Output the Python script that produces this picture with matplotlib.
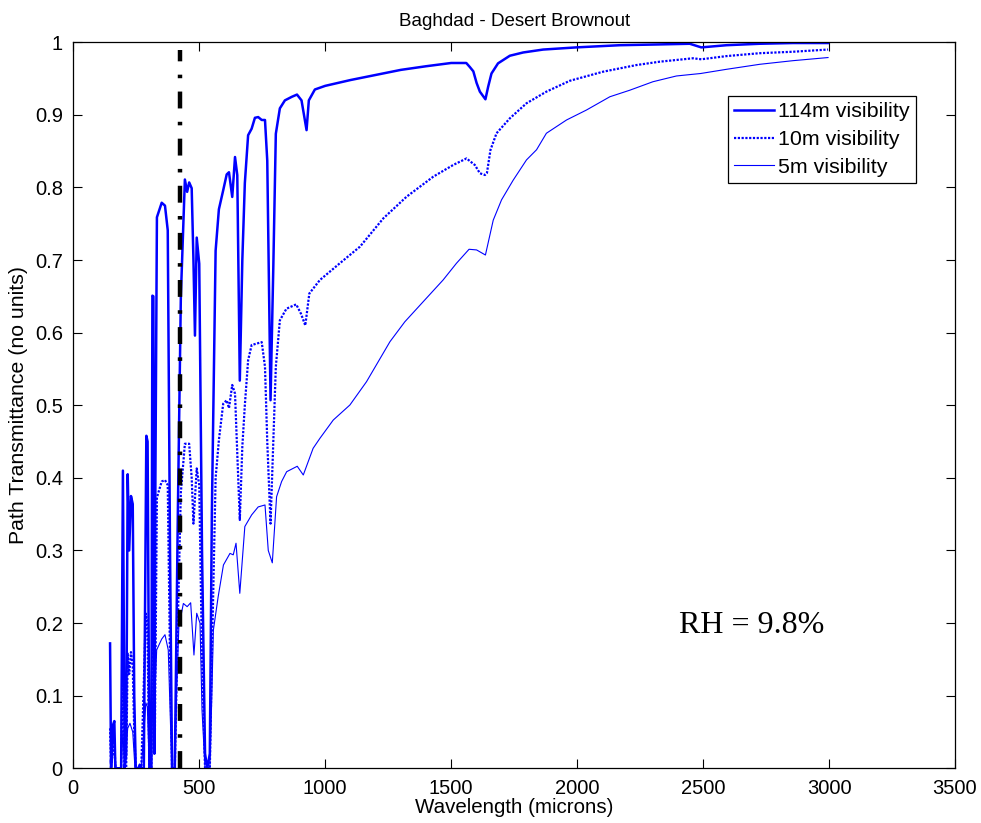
"""Baghdad desert brownout path transmittance, redrawn from the figure."""

import matplotlib
matplotlib.use("Agg")
import matplotlib.pyplot as plt
import numpy as np

plt.rcParams["font.family"] = ["Liberation Sans", "DejaVu Sans"]
plt.rcParams["font.size"] = 14.5

# 114m visibility
wl_114 = [146, 150, 158, 163, 167, 190, 197, 204, 210, 216, 222, 229, 236, 242,
          248, 258, 264, 270, 280, 290, 295, 302, 310, 314, 318, 322, 326, 332,
          351, 364, 375, 384, 392, 403, 415, 427, 443, 452, 460, 470, 477, 483,
          490, 500, 511, 523, 532, 542, 550, 565, 578, 595, 609, 618, 631, 642,
          651, 661, 671, 681, 694, 708, 721, 734, 748, 761, 770, 783, 794, 804,
          820, 840, 868, 888, 906, 926, 935, 959, 1000, 1100, 1200, 1300, 1400,
          1500, 1560, 1574, 1588, 1601, 1614, 1636, 1647, 1660, 1686, 1733, 1786,
          1865, 1997, 2169, 2315, 2447, 2493, 2593, 2725, 2857, 2996]
t_114 = [0.172, 0.0, 0.06, 0.065, 0.0, 0.0, 0.41, 0.0, 0.02, 0.405, 0.30, 0.375, 0.364, 0.1,
         0.0, 0.0, 0.005, 0.0, 0.0, 0.458, 0.45, 0.0, 0.0, 0.651, 0.65, 0.02, 0.4, 0.759,
         0.779, 0.775, 0.741, 0.3, 0.0, 0.0, 0.35, 0.65, 0.811, 0.794, 0.807, 0.799, 0.7, 0.596,
         0.731, 0.695, 0.3, 0.02, 0.0, 0.02, 0.35, 0.713, 0.77, 0.796, 0.818, 0.821, 0.787, 0.842,
         0.817, 0.534, 0.7, 0.806, 0.872, 0.881, 0.896, 0.897, 0.893, 0.893, 0.837, 0.507, 0.690, 0.874,
         0.909, 0.92, 0.925, 0.928, 0.92, 0.879, 0.92, 0.935, 0.94, 0.948, 0.955, 0.962, 0.967,
         0.9715, 0.9715, 0.966, 0.96, 0.944, 0.932, 0.9215, 0.939, 0.957, 0.971, 0.9815, 0.986,
         0.990, 0.993, 0.996, 0.997, 0.998, 0.993, 0.996, 0.998, 0.999, 0.999]

# 10m visibility
wl_10 = [146, 150, 158, 163, 167, 190, 197, 203, 210, 216, 222, 229, 236, 242,
         248, 270, 288, 294, 302, 310, 316, 320, 324, 332, 351, 364, 375, 384,
         392, 403, 415, 427, 443, 460, 470, 477, 490, 500, 511, 523, 542, 550,
         565, 578, 595, 609, 618, 631, 642, 661, 671, 681, 694, 708, 748, 761,
         770, 783, 794, 804, 820, 846, 885, 904, 921, 937, 979, 1058, 1138, 1231,
         1323, 1429, 1508, 1561, 1594, 1614, 1634, 1642, 1656, 1680, 1733, 1799,
         1878, 1971, 2103, 2236, 2328, 2460, 2493, 2593, 2725, 2857, 2996]
t_10 = [0.055, 0.0, 0.03, 0.04, 0.0, 0.0, 0.163, 0.0, 0.0, 0.158, 0.13, 0.16, 0.14, 0.05,
        0.0, 0.0, 0.213, 0.2, 0.0, 0.0, 0.318, 0.31, 0.05, 0.373, 0.395, 0.397, 0.39, 0.15,
        0.0, 0.0, 0.2, 0.38, 0.447, 0.447, 0.4, 0.337, 0.413, 0.39, 0.15, 0.0, 0.0, 0.15,
        0.40, 0.452, 0.502, 0.507, 0.496, 0.528, 0.516, 0.342, 0.443, 0.50, 0.562, 0.583, 0.587, 0.553,
        0.45, 0.337, 0.45, 0.553, 0.617, 0.633, 0.639, 0.626, 0.61, 0.654, 0.6726, 0.6956, 0.7185, 0.7576,
        0.7873, 0.8149, 0.831, 0.840, 0.831, 0.8196, 0.8172, 0.82, 0.8517, 0.8747, 0.8953, 0.916,
        0.932, 0.947, 0.9595, 0.9687, 0.9733, 0.978, 0.9766, 0.981, 0.985, 0.987, 0.990]

# 5m visibility
wl_5 = [146, 150, 158, 165, 170, 190, 197, 204, 216, 225, 236, 245, 270, 288,
        294, 302, 310, 318, 324, 331, 351, 364, 377, 386, 392, 403, 410, 419,
        437, 452, 466, 479, 490, 503, 511, 523, 542, 550, 556, 575, 596, 622,
        635, 646, 661, 681, 708, 734, 761, 774, 790, 807, 827, 847, 889, 913,
        952, 979, 1032, 1098, 1164, 1257, 1316, 1389, 1468, 1521, 1571, 1601,
        1636, 1667, 1700, 1746, 1799, 1839, 1878, 1958, 2037, 2130, 2209, 2301,
        2394, 2447, 2490, 2593, 2725, 2857, 2996]
t_5 = [0.01, 0.0, 0.02, 0.02, 0.0, 0.0, 0.05, 0.0, 0.055, 0.062, 0.05, 0.0, 0.0, 0.09,
       0.085, 0.0, 0.0, 0.14, 0.099, 0.163, 0.178, 0.184, 0.163, 0.06, 0.0, 0.0, 0.1, 0.195,
       0.227, 0.2226, 0.228, 0.156, 0.2135, 0.20, 0.08, 0.0, 0.0, 0.1, 0.19, 0.236, 0.28, 0.296,
       0.294, 0.31, 0.241, 0.333, 0.349, 0.360, 0.3627, 0.30, 0.283, 0.374, 0.395, 0.4085, 0.416, 0.404,
       0.4407, 0.4545, 0.4797, 0.5004, 0.5325, 0.5876, 0.615, 0.6427, 0.6726, 0.6956, 0.7149, 0.714,
       0.707, 0.755, 0.783, 0.810, 0.838, 0.852, 0.8747, 0.893, 0.9067, 0.925, 0.934, 0.9457,
       0.9536, 0.9555, 0.957, 0.9628, 0.9697, 0.9747, 0.979]

marker_wl = 425          # vertical dash-dot marker
marker_span = [0.0, 0.99]
rh_note = "RH = 9.8%"

assert len(wl_114) == len(t_114)
assert len(wl_10) == len(t_10)
assert len(wl_5) == len(t_5)

fig = plt.figure(figsize=(9.81, 8.23), dpi=100)
ax = fig.add_axes([0.0747, 0.0665, 0.8988, 0.8821])

blue = "#0000ff"
ax.plot(wl_114, t_114, color=blue, lw=1.8, label="114m visibility")
ax.plot(wl_10, t_10, color=blue, lw=1.6, linestyle=(0, (1.0, 0.7)),
        label="10m visibility")
ax.plot(wl_5, t_5, color=blue, lw=0.8, label="5m visibility")
ax.plot([marker_wl, marker_wl], marker_span, color="black", lw=3.2,
        linestyle=(0, (3.8, 3.0, 0.8, 3.0)), dash_capstyle="butt")

ax.text(2405, 0.187, rh_note, family=["Liberation Serif", "DejaVu Serif"],
        fontsize=23, ha="left", va="baseline")

ax.set_xlim(0, 3500)
ax.set_ylim(0, 1)
ax.set_xticks(np.arange(0, 3501, 500))
ax.set_yticks(np.round(np.arange(0, 1.01, 0.1), 1))
ax.set_yticklabels(["0"] + [f"{v:.1f}" for v in np.arange(0.1, 0.95, 0.1)] + ["1"])
ax.tick_params(direction="in", length=6.5, width=0.8, top=True, right=True, pad=7.5)
for s in ax.spines.values():
    s.set_linewidth(0.9)

ax.set_xlabel("Wavelength (microns)", fontsize=14.8, labelpad=0)
ax.set_ylabel("Path Transmittance (no units)", fontsize=15.3, labelpad=5)
ax.set_title("Baghdad - Desert Brownout", fontsize=13.5, pad=12)

leg = ax.legend(loc="upper right", bbox_to_anchor=(0.9558, 0.926),
                borderaxespad=0, fancybox=False, framealpha=1,
                edgecolor="black", handlelength=1.85, handletextpad=0.2,
                labelspacing=0.4, borderpad=0.3, fontsize=15.4)
leg.get_frame().set_linewidth(0.9)

fig.savefig("out.png", dpi=100)
